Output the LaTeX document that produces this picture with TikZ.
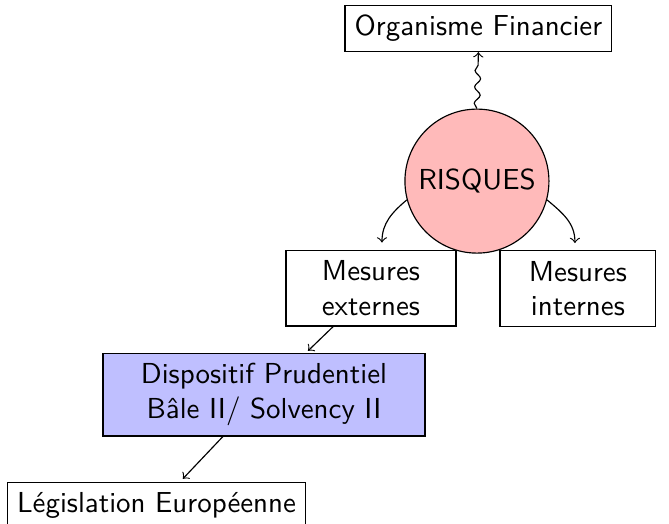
\documentclass[tikz,border=0pt]{standalone}
\usepackage{fontspec}
\usetikzlibrary{calc,decorations.pathmorphing}

\tikzset{
  boite/.style={draw, align=center},
  fleche/.style={->},
}

\begin{document}
\begin{tikzpicture}[font=\sffamily]
      \useasboundingbox (0,0) rectangle (8.13,6.356);
      %\draw[step=.5 cm, gray!50, very thin] (0,0) grid (8,6.5);
      \node[boite] (orga) at (5.814,6.009) {Organisme Financier};
      \node[draw, circle, fill=red!27, minimum size=1.75cm, inner sep=0pt] (risques) at (5.796,4.155) {RISQUES};
      \node[boite, minimum width=2.066cm, minimum height=0.923cm] (externes) at (4.508,2.855) {Mesures\\externes};
      \node[boite, minimum width=1.895cm, minimum height=0.923cm] (internes) at (7.023,2.849) {Mesures\\internes};
      \node[boite, fill=blue!25, minimum width=3.913cm, minimum height=1.008cm] (dispositif) at (3.208,1.561) {Dispositif Prudentiel\\B\^ale II/ Solvency II};
      \node[boite] (legislation) at (1.902,0.215) {Législation Européenne};
      % liens
      \draw[->, decorate, decoration={snake, amplitude=.35mm, segment length=2mm, post length=1.5mm}] (risques.north) -- (orga.south);
      \draw[->] (risques.195) to[out=220, in=90] ($(externes.north)+(0.134,0.085)$);
      \draw[->] (risques.-15) to[out=-40, in=90] ($(internes.north)+(-0.036,0.085)$);
      \draw[fleche] ($(externes.south)+(-0.46,0)$) -- ($(dispositif.north)+(0.535,0.02)$);
      \draw[fleche] ($(dispositif.south)+(-0.50,0)$) -- ($(legislation.north)+(0.32,0.04)$);
  \end{tikzpicture}
\end{document}
